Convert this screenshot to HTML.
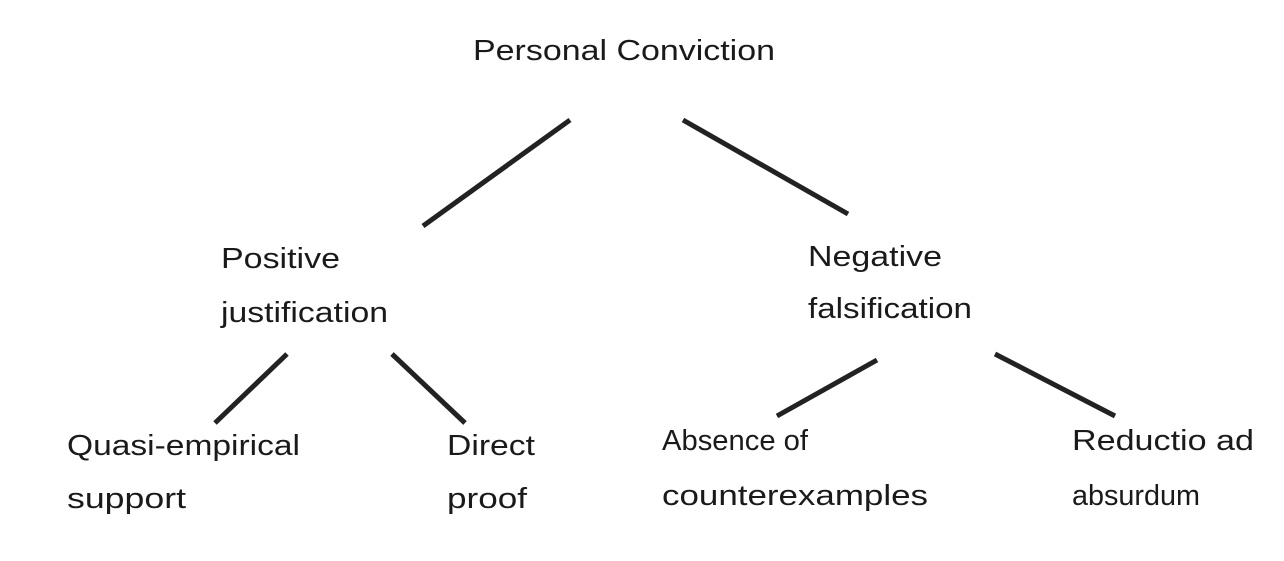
<!DOCTYPE html>
<html><head><meta charset="utf-8"><style>
html,body{margin:0;padding:0;background:#fff;}
svg{display:block;}
text{font-family:"Liberation Sans",Arial,sans-serif;font-size:29px;fill:#1a1a1a;}
</style></head><body>
<svg width="1284" height="561" viewBox="0 0 1284 561" xmlns="http://www.w3.org/2000/svg">
<rect width="1284" height="561" fill="#fff"/>
<g stroke="#222" stroke-width="5" stroke-linecap="butt">
<line x1="570" y1="120" x2="423" y2="226"/>
<line x1="683" y1="120" x2="848" y2="214"/>
<line x1="287" y1="354" x2="215" y2="423"/>
<line x1="392" y1="354" x2="465" y2="423"/>
<line x1="877" y1="360" x2="777" y2="416"/>
<line x1="995" y1="354" x2="1115" y2="416"/>
</g>
<text x="473" y="60" textLength="302" lengthAdjust="spacingAndGlyphs">Personal Conviction</text>
<text x="221" y="268" textLength="119" lengthAdjust="spacingAndGlyphs">Positive</text>
<text x="221" y="322" textLength="167" lengthAdjust="spacingAndGlyphs">justification</text>
<text x="808" y="266" textLength="134" lengthAdjust="spacingAndGlyphs">Negative</text>
<text x="808" y="318" textLength="164" lengthAdjust="spacingAndGlyphs">falsification</text>
<text x="67" y="455" textLength="233" lengthAdjust="spacingAndGlyphs">Quasi-empirical</text>
<text x="67" y="508" textLength="119" lengthAdjust="spacingAndGlyphs">support</text>
<text x="447" y="455" textLength="88" lengthAdjust="spacingAndGlyphs">Direct</text>
<text x="447" y="508" textLength="80" lengthAdjust="spacingAndGlyphs">proof</text>
<text x="662" y="450" textLength="146" lengthAdjust="spacingAndGlyphs">Absence of</text>
<text x="662" y="505" textLength="266" lengthAdjust="spacingAndGlyphs">counterexamples</text>
<text x="1072" y="450" textLength="182" lengthAdjust="spacingAndGlyphs">Reductio ad</text>
<text x="1072" y="505" textLength="128" lengthAdjust="spacingAndGlyphs">absurdum</text>
</svg>
</body></html>
